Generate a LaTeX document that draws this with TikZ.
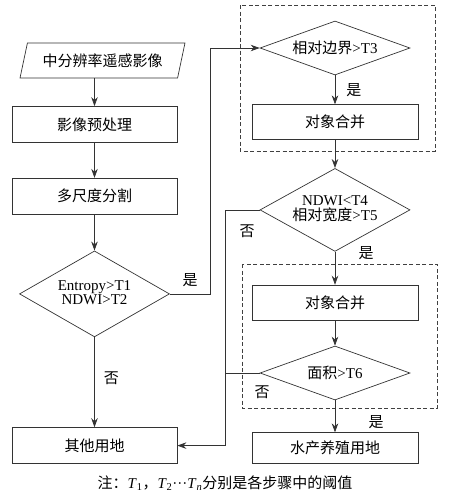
\documentclass[tikz,border=0pt]{standalone}
\usepackage{fontspec}
\setmainfont{Liberation Serif}
\newfontfamily\cjk{Noto Sans CJK SC}
\newcommand{\zh}[1]{{\cjk #1}}
\usepackage{tikz}
\usetikzlibrary{arrows.meta, positioning, calc, shapes.geometric}

\tikzset{
  box/.style={draw=black!80, line width=0.7pt, minimum width=165pt, minimum height=36pt, inner sep=0pt},
  rbox/.style={box, minimum width=166pt, minimum height=35pt},
  ask/.style={draw=black!80, line width=0.7pt, diamond, aspect=2.8, inner sep=0pt, minimum width=150pt, minimum height=54pt},
  lab/.style={inner sep=1pt},
  flow/.style={draw=black!80, line width=0.7pt, -{Stealth[length=9pt,width=6.5pt]}},
  link/.style={draw=black!80, line width=0.7pt},
  frame/.style={draw=black!75, line width=0.7pt, dash pattern=on 4pt off 2.5pt}
}

\begin{document}
\begin{tikzpicture}[x=1pt, y=-1pt, font=\fontsize{15}{17}\selectfont]
\useasboundingbox (0,0) rectangle (450,496);
% left column
\node[box] (pre) at (94.5,124.5) {\zh{影像预处理}};
\node[draw=black!80, line width=0.7pt, trapezium, trapezium left angle=67, trapezium right angle=113,
      trapezium stretches=true, minimum width=165pt, minimum height=35pt, inner sep=0pt]
      (img) at (102.5,60.5) {\zh{中分辨率遥感影像}};
\node[box, below=35pt of pre] (seg) {\zh{多尺度分割}};
\node[ask, aspect=1.7, minimum height=86pt, below=36pt of seg.south, anchor=north] (d1) {\begin{tabular}{@{}c@{}}Entropy>T1\\[-3pt]NDWI>T2\end{tabular}};
\node[box, below=90pt of d1.south, anchor=north] (other) {\zh{其他用地}};
% right column
\node[ask] (d3) at (335,48) {\zh{相对边界}>T3};
\node[rbox, below=29pt of d3.south, anchor=north] (m1) {\zh{对象合并}};
\node[ask, aspect=1.8, minimum height=83pt, below=28pt of m1.south, anchor=north] (d4) {\begin{tabular}{@{}c@{}}NDWI<T4\\[-3pt]\zh{相对宽度}>T5\end{tabular}};
\node[rbox, below=33pt of d4.south, anchor=north] (m2) {\zh{对象合并}};
\node[ask] (d6) at (335,373) {\zh{面积}>T6};
\node[rbox, minimum height=31pt, below=32pt of d6.south, anchor=north] (aqua) {\zh{水产养殖用地}};
\coordinate (bus) at (225,0);
% dashed groups
\draw[frame] (240,5) rectangle (435,151);
\draw[frame] (242,264) rectangle (437,408);
% connectors
\draw[flow] (img.south -| pre.north) -- (pre);
\draw[flow] (pre) -- (seg);
\draw[flow] (seg) -- (d1);
\draw[flow] (d1) -- node[lab, right=8pt, pos=0.46] {\zh{否}} (other);
\draw[flow] (d1.east) -- ++(40pt,0) |- (d3.west);
\node[lab] (yes1) at (190,280) {\zh{是}};
\draw[flow] (d3) -- node[lab, right=10pt] {\zh{是}} (m1);
\draw[flow] (m1) -- (d4);
\draw[flow] (d4) -- (m2);
\node[lab] (yes2) at (366,253) {\zh{是}};
\draw[flow] (m2) -- (d6);
\draw[flow] (d6) -- (aqua);
\node[lab] (yes3) at (376,422) {\zh{是}};
\draw[flow] (d4.west) -- (d4.west -| bus) |- (other.east);
\draw[link] (d6.west) -- (d6.west -| bus);
\node[lab] (no2) at (247,231) {\zh{否}};
\node[lab] (no3) at (262,392) {\zh{否}};
% note
\node (note) at (225,483) {\zh{注：}\textit{T}\textsubscript{1}\zh{，}\textit{T}\textsubscript{2}···\textit{T}\textsubscript{\textit{n}}\zh{分别是各步骤中的阈值}};
\end{tikzpicture}
\end{document}
